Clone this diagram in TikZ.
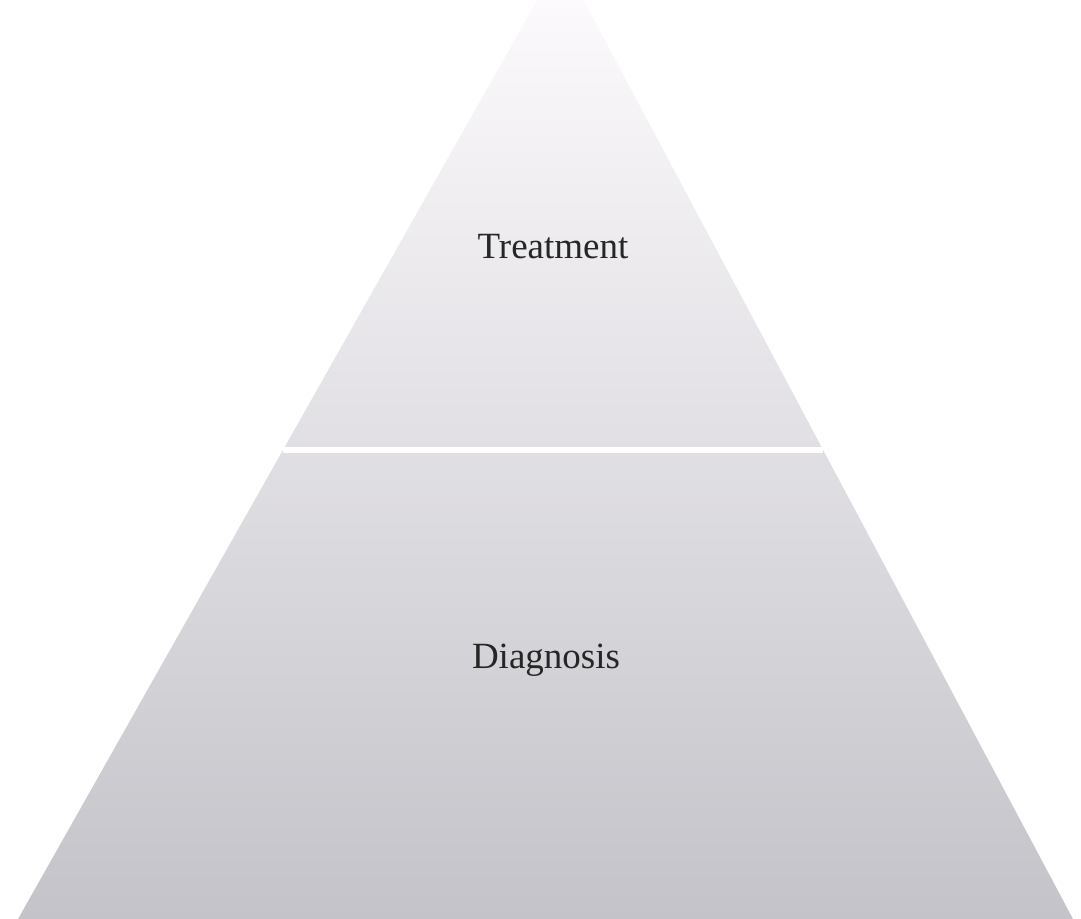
\documentclass[tikz,border=0pt]{standalone}
\usepackage{fontspec}
\setmainfont{Liberation Serif}
\usetikzlibrary{calc}
\definecolor{pyrtop}{RGB}{254,252,254}
\definecolor{pyrmid}{RGB}{220,216,226}
\definecolor{pyrbot}{RGB}{196,195,201}
\tikzset{
  label text/.style={font=\fontsize{18.5}{22}\selectfont,text=black!85},
  divider/.style={white,line width=3pt}
}
\begin{document}
\begin{tikzpicture}[x=0.5pt,y=-0.5pt]
  \useasboundingbox (0,0) rectangle (1081,919);
  \coordinate (apex) at (561,-42);
  \coordinate (bl) at (18,919);
  \coordinate (br) at (1073,919);
  \begin{scope}
    \clip (0,0) rectangle (1081,919);
    \shade[top color=pyrtop,middle color=pyrmid,bottom color=pyrbot] (apex)--(bl)--(br)--cycle;
  \end{scope}
  \coordinate (dl) at ($(apex)!0.512!(bl)$);
  \coordinate (dr) at ($(apex)!0.512!(br)$);
  \draw[divider] (dl)--(dr);
  \node[label text] (treat) at (553,247) {Treatment};
  \node[label text] (diag) at (546,660) {Diagnosis};
\end{tikzpicture}
\end{document}
